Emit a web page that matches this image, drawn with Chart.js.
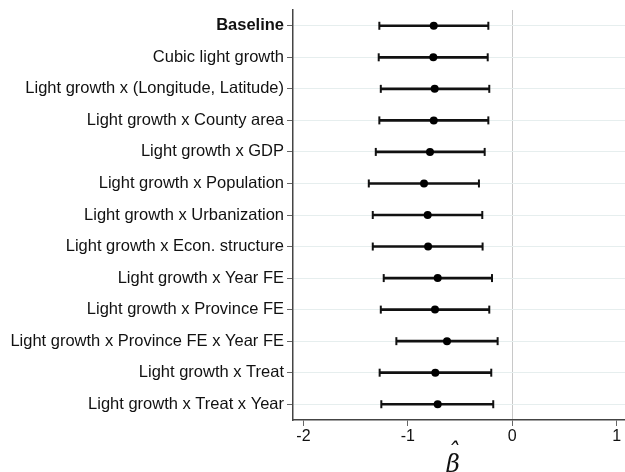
<!DOCTYPE html>
<html>
<head>
<meta charset="utf-8"/>
<title>Robustness coefficients</title>
<script src="https://cdn.jsdelivr.net/npm/chart.js"></script>
<style>
  html, body { margin: 0; padding: 0; background: #fff; }
  #wrap { width: 625px; height: 472px; }
</style>
</head>
<body>
<div id="wrap"><canvas id="coef-chart" width="625" height="472"></canvas></div>
<script>
  const labels = [
    'Baseline',
    'Cubic light growth',
    'Light growth x (Longitude, Latitude)',
    'Light growth x County area',
    'Light growth x GDP',
    'Light growth x Population',
    'Light growth x Urbanization',
    'Light growth x Econ. structure',
    'Light growth x Year FE',
    'Light growth x Province FE',
    'Light growth x Province FE x Year FE',
    'Light growth x Treat',
    'Light growth x Treat x Year'
  ];
  const estimates = [-0.752, -0.756, -0.743, -0.752, -0.788, -0.845, -0.810, -0.806, -0.714, -0.740, -0.625, -0.737, -0.714];
  const lower = [-1.273, -1.279, -1.259, -1.273, -1.307, -1.374, -1.336, -1.336, -1.231, -1.259, -1.110, -1.270, -1.254];
  const upper = [-0.229, -0.235, -0.220, -0.229, -0.264, -0.319, -0.287, -0.284, -0.194, -0.220, -0.140, -0.201, -0.182];
  const xTicks = [-2, -1, 0, 1];

  const font = "'Liberation Sans', Arial, sans-serif";

  new Chart(document.getElementById('coef-chart'), {
    type: 'bar',
    data: {
      labels: labels,
      datasets: [
        {
          // confidence interval whiskers
          data: labels.map((l, i) => [lower[i], upper[i]]),
          backgroundColor: '#111',
          barThickness: 2,
          order: 3
        },
        {
          type: 'scatter',
          data: labels.map((l, i) => ({ x: lower[i], y: l })),
          pointStyle: 'line',
          rotation: 90,
          pointRadius: 4,
          borderColor: '#111',
          borderWidth: 2,
          order: 2
        },
        {
          type: 'scatter',
          data: labels.map((l, i) => ({ x: upper[i], y: l })),
          pointStyle: 'line',
          rotation: 90,
          pointRadius: 4,
          borderColor: '#111',
          borderWidth: 2,
          order: 2
        },
        {
          type: 'scatter',
          data: labels.map((l, i) => ({ x: estimates[i], y: l })),
          pointRadius: 4,
          backgroundColor: '#000',
          borderColor: '#000',
          borderWidth: 0,
          order: 1
        }
      ]
    },
    options: {
      indexAxis: 'y',
      responsive: false,
      animation: false,
      layout: { autoPadding: false, padding: { top: 10, right: 0, bottom: 0, left: 0 } },
      plugins: {
        legend: { display: false },
        tooltip: { enabled: false }
      },
      scales: {
        x: {
          type: 'linear',
          min: -2.1,
          max: 1.08,
          afterBuildTicks: axis => { axis.ticks = xTicks.map(v => ({ value: v })); },
          afterFit: axis => { axis.height = 52; axis.paddingRight = 0; },
          border: { color: '#444', width: 1.5 },
          grid: {
            color: ctx => (ctx.tick && ctx.tick.value === 0 ? '#c8c8c8' : 'rgba(0,0,0,0)'),
            lineWidth: 1,
            tickColor: '#666',
            tickLength: 6
          },
          ticks: {
            color: '#111',
            padding: 1,
            font: { family: font, size: 16 }
          },
          title: {
            display: true,
            text: ['ˆ\u2002', 'β\u2002'],
            color: '#111',
            padding: { top: -9, bottom: 0 },
            font: { family: "'DejaVu Serif', serif", size: 24, style: 'italic', lineHeight: 0.5 }
          }
        },
        y: {
          type: 'category',
          offset: true,
          afterFit: axis => { axis.width = 293; axis.paddingTop = 0; axis.paddingBottom = 0; },
          border: { color: '#444', width: 1.5 },
          grid: {
            offset: false,
            color: '#e6eeee',
            lineWidth: 1,
            tickColor: '#666',
            tickLength: 6
          },
          ticks: {
            color: '#111',
            padding: 3,
            font: ctx => ({ family: font, size: 16.5, weight: ctx.index === 0 ? 'bold' : 'normal' })
          }
        }
      }
    }
  });
</script>
</body>
</html>
